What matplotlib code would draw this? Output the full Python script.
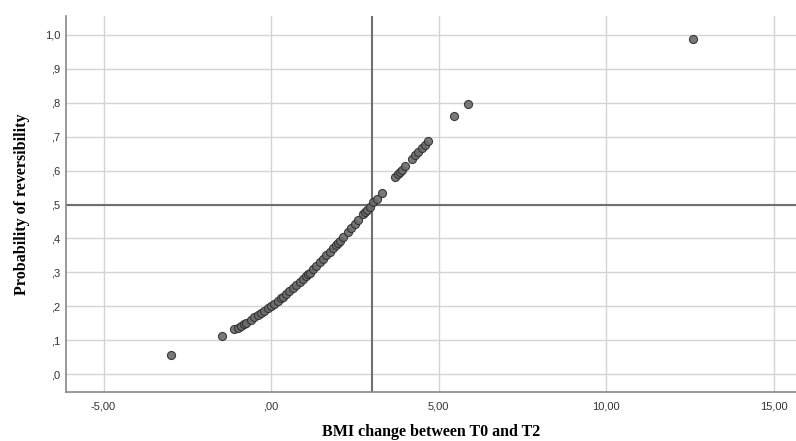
import matplotlib.pyplot as plt
import numpy as np

# BMI change (x) and predicted probability (y)
bmi_change = [-3.0, -1.45, -1.1, -1.0, -0.9, -0.8, -0.75, -0.6, -0.5, -0.4, -0.3,
              -0.2, -0.1, 0.0, 0.1, 0.2, 0.3, 0.35, 0.45, 0.55, 0.65, 0.75,
              0.85, 0.95, 1.05, 1.1, 1.15, 1.25, 1.35, 1.45, 1.55, 1.65, 1.75,
              1.85, 1.95, 2.0, 2.05, 2.15, 2.3, 2.4, 2.5, 2.6, 2.75, 2.8, 2.85,
              2.95, 3.05, 3.15, 3.3, 3.7, 3.8, 3.85, 3.9, 4.0, 4.2, 4.3, 4.4,
              4.5, 4.6, 4.7, 5.47, 5.89, 12.6]
prob = [0.057, 0.113, 0.132, 0.137, 0.143, 0.148, 0.151, 0.160, 0.167, 0.173, 0.180,
        0.187, 0.194, 0.201, 0.208, 0.216, 0.224, 0.228, 0.236, 0.245, 0.253, 0.262,
        0.271, 0.280, 0.290, 0.294, 0.299, 0.309, 0.319, 0.329, 0.339, 0.350, 0.360,
        0.371, 0.382, 0.387, 0.392, 0.403, 0.420, 0.431, 0.443, 0.454, 0.471, 0.477, 0.483,
        0.494, 0.506, 0.517, 0.534, 0.580, 0.591, 0.596, 0.602, 0.613, 0.635, 0.645, 0.656,
        0.666, 0.676, 0.688, 0.762, 0.796, 0.988]

x_ticks = [-5, 0, 5, 10, 15]
x_labels = ["-5,00", ",00", "5,00", "10,00", "15,00"]
y_ticks = [0.0, 0.1, 0.2, 0.3, 0.4, 0.5, 0.6, 0.7, 0.8, 0.9, 1.0]
y_labels = [",0", ",1", ",2", ",3", ",4", ",5", ",6", ",7", ",8", ",9", "1,0"]
ref_x = 3.0
ref_y = 0.5

fig = plt.figure(figsize=(7.96, 4.41), dpi=100)
ax = fig.add_axes([66 / 796, 1 - 392 / 441, 1 - 66 / 796, (392 - 16) / 441])

ax.set_xlim(-6.12, 15.67)
ax.set_ylim(-0.053, 1.056)

ax.set_xticks(x_ticks)
ax.set_xticklabels(x_labels, fontsize=8, family="Liberation Sans", color="#333333")
ax.set_yticks(y_ticks)
ax.set_yticklabels(y_labels, fontsize=8, family="Liberation Sans", color="#333333")
ax.tick_params(axis="x", length=0, pad=7)
ax.tick_params(axis="y", length=0, pad=4)

ax.grid(True, color="#d4d4d4", linewidth=1.0)
ax.set_axisbelow(True)
for s in ["top", "right"]:
    ax.spines[s].set_visible(False)
for s in ["left", "bottom"]:
    ax.spines[s].set_color("#888888")
    ax.spines[s].set_linewidth(1.2)

ax.axvline(ref_x, color="#707070", linewidth=1.5, zorder=1.5)
ax.axhline(ref_y, color="#707070", linewidth=1.5, zorder=1.5)

ax.scatter(bmi_change, prob, s=34, facecolor="#6b6b6b", edgecolor="#2e2e2e",
           linewidth=0.8, alpha=0.9, zorder=3)

ax.set_xlabel("BMI change between T0 and T2", family="Liberation Serif",
              fontweight="bold", fontsize=11.5, labelpad=9)
ax.set_ylabel("Probability of reversibility", family="Liberation Serif",
              fontweight="bold", fontsize=11.5, labelpad=11)

plt.savefig("out.png", dpi=100)
